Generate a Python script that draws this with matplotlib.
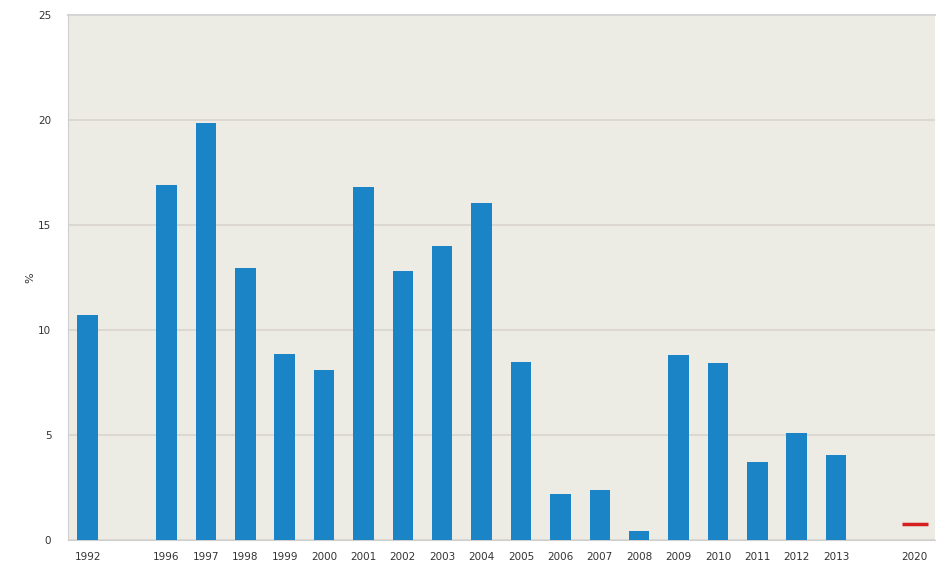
import numpy as np
import matplotlib.pyplot as plt

# categories (empty strings are gap slots on the axis)
years = ['1992', '', '1996', '1997', '1998', '1999', '2000', '2001', '2002', '2003',
         '2004', '2005', '2006', '2007', '2008', '2009', '2010', '2011', '2012',
         '2013', '', '2020']
values = [10.7, np.nan, 16.9, 19.85, 12.95, 8.85, 8.1, 16.8, 12.8, 14.0,
          16.05, 8.5, 2.2, 2.4, 0.45, 8.8, 8.45, 3.7, 5.1, 4.05, np.nan, np.nan]
# target value for 2020 (red marker)
target_year = '2020'
target_value = 0.78

bar_color = '#1a84c6'
bg_color = '#ecebe4'
grid_color = '#d9d3cc'

fig = plt.figure(figsize=(9.46, 5.71), dpi=100)
ax = fig.add_axes([0.0719, 0.0543, 0.916, 0.9194])
ax.set_facecolor(bg_color)

x = np.arange(len(years))
ax.bar(x, values, width=0.52, color=bar_color, zorder=3)

tx = years.index(target_year)
ax.plot([tx], [target_value], marker='_', markersize=19, markeredgewidth=2.5,
        color='#d62020', zorder=4)

ax.set_xlim(-0.5, len(years) - 0.5)
ax.set_ylim(0, 25)
ax.set_yticks([0, 5, 10, 15, 20, 25])
ax.set_xticks(x)
ax.set_xticklabels(years, fontsize=7.5, color='#333333')
ax.tick_params(axis='y', labelsize=7.5, colors='#333333', length=0, pad=12)
ax.tick_params(axis='x', length=0, pad=9)
ax.yaxis.grid(True, color=grid_color, linewidth=1.2, zorder=0)
ax.set_axisbelow(True)

ax.spines['right'].set_visible(False)
ax.spines['left'].set_color('#cfcfcf')
ax.spines['bottom'].set_color('#cfcfcf')
ax.spines['top'].set_color('#d5d5d5')
ax.spines['top'].set_linewidth(1.5)

ax.set_ylabel('%', fontsize=8, color='#333333', labelpad=2)

plt.savefig('out.png', dpi=100, facecolor='white')
